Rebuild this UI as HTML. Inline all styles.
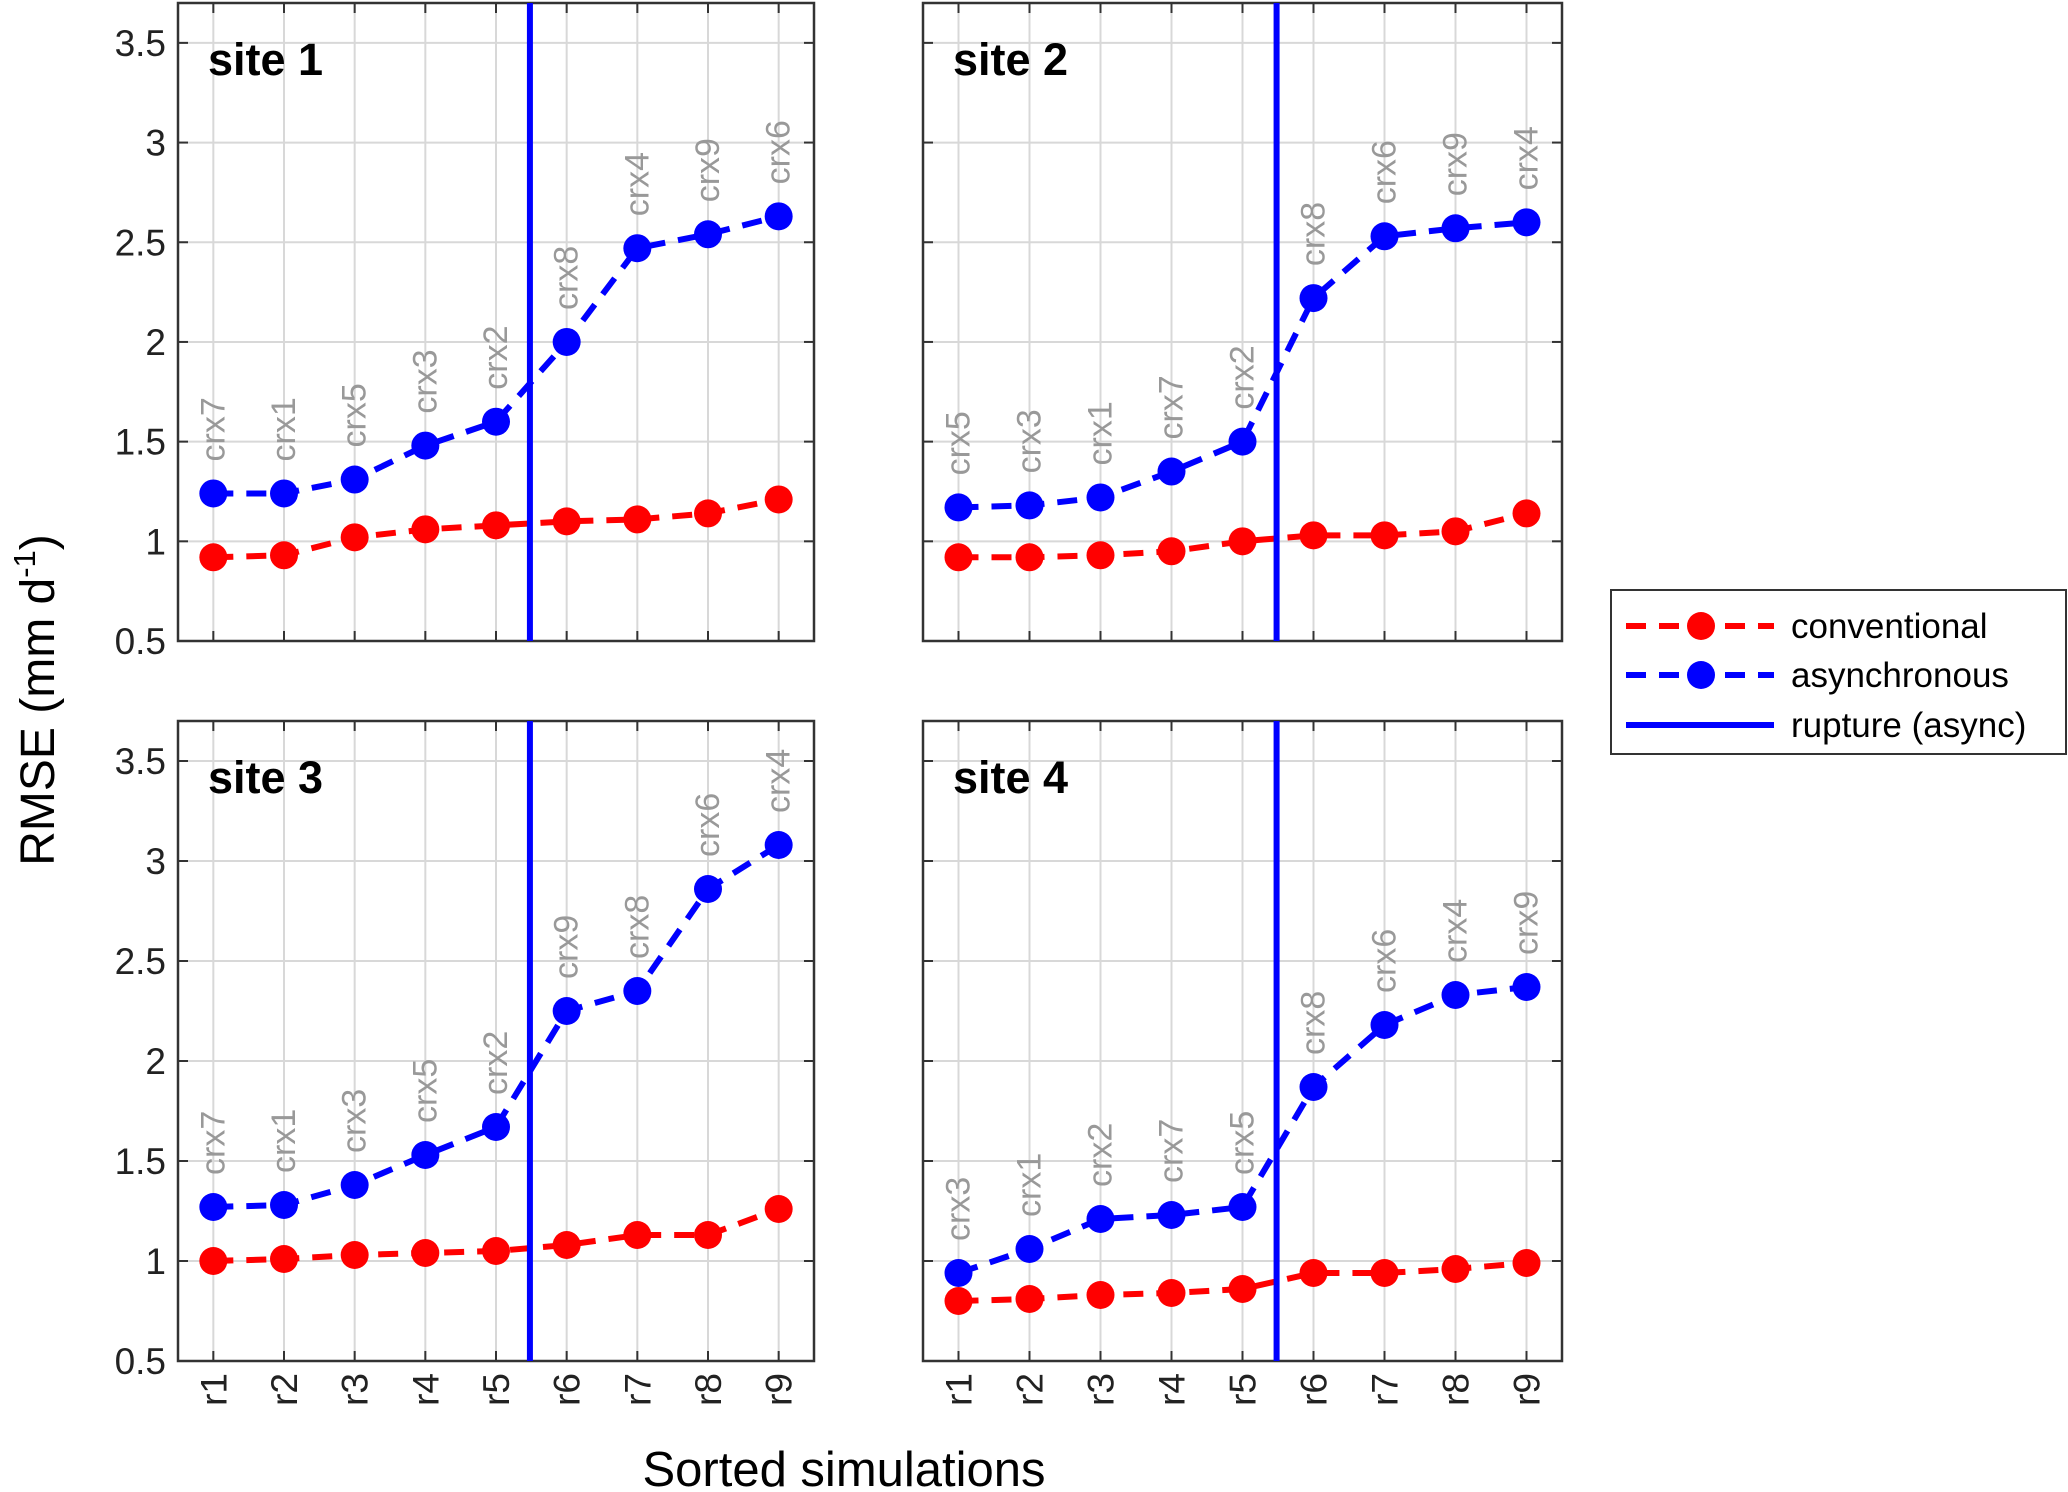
<!DOCTYPE html>
<html><head><meta charset="utf-8"><style>
body{margin:0;background:#fff;}
svg{display:block;font-family:"Liberation Sans",Arial,sans-serif;}
</style></head><body>
<svg id="chart" width="2068" height="1492" viewBox="0 0 2068 1492" xmlns="http://www.w3.org/2000/svg">
<text x="0" y="0" transform="translate(54,700) rotate(-90)" text-anchor="middle" font-size="48">RMSE (mm d<tspan font-size="31" dy="-19">-1</tspan><tspan dy="19">)</tspan></text>
<text x="844" y="1486" text-anchor="middle" font-size="49">Sorted simulations</text>
<g id="legend">
<rect x="1611" y="590" width="455" height="164" fill="#fff" stroke="#333" stroke-width="2"/>
<line x1="1626" y1="626" x2="1774" y2="626" stroke="#f00" stroke-width="6" stroke-dasharray="20 13"/>
<circle cx="1701" cy="626" r="14" fill="#f00"/>
<text x="1791" y="638" font-size="35">conventional</text>
<line x1="1626" y1="675" x2="1774" y2="675" stroke="#00f" stroke-width="6" stroke-dasharray="20 13"/>
<circle cx="1701" cy="675" r="14" fill="#00f"/>
<text x="1791" y="687" font-size="35">asynchronous</text>
<line x1="1626" y1="725" x2="1774" y2="725" stroke="#00f" stroke-width="6"/>
<text x="1791" y="737" font-size="35">rupture (async)</text>
</g>
</svg>
<script>
const categories = ["r1","r2","r3","r4","r5","r6","r7","r8","r9"];
const yTicks = [0.5,1,1.5,2,2.5,3,3.5];
const yTickLabels = ["0.5","1","1.5","2","2.5","3","3.5"];
const siteNames = ["site 1","site 2","site 3","site 4"];
const asyncSite1 = [1.24,1.24,1.31,1.48,1.60,2.00,2.47,2.54,2.63];
const convSite1 = [0.92,0.93,1.02,1.06,1.08,1.10,1.11,1.14,1.21];
const labelsSite1 = ["crx7","crx1","crx5","crx3","crx2","crx8","crx4","crx9","crx6"];
const asyncSite2 = [1.17,1.18,1.22,1.35,1.50,2.22,2.53,2.57,2.60];
const convSite2 = [0.92,0.92,0.93,0.95,1.00,1.03,1.03,1.05,1.14];
const labelsSite2 = ["crx5","crx3","crx1","crx7","crx2","crx8","crx6","crx9","crx4"];
const asyncSite3 = [1.27,1.28,1.38,1.53,1.67,2.25,2.35,2.86,3.08];
const convSite3 = [1.00,1.01,1.03,1.04,1.05,1.08,1.13,1.13,1.26];
const labelsSite3 = ["crx7","crx1","crx3","crx5","crx2","crx9","crx8","crx6","crx4"];
const asyncSite4 = [0.94,1.06,1.21,1.23,1.27,1.87,2.18,2.33,2.37];
const convSite4 = [0.80,0.81,0.83,0.84,0.86,0.94,0.94,0.96,0.99];
const labelsSite4 = ["crx3","crx1","crx2","crx7","crx5","crx8","crx6","crx4","crx9"];
const rupturePos = [5.48,5.48,5.48,5.48];

const NS="http://www.w3.org/2000/svg";
const svg=document.getElementById('chart');
function mk(tag,attrs,parent){const e=document.createElementNS(NS,tag);for(const k in attrs)e.setAttribute(k,attrs[k]);(parent||svg).appendChild(e);return e;}
const panels=[
 {l:178,r:814,t:3,b:641,a:asyncSite1,c:convSite1,lab:labelsSite1,yl:true,xl:false},
 {l:923,r:1562,t:3,b:641,a:asyncSite2,c:convSite2,lab:labelsSite2,yl:false,xl:false},
 {l:178,r:814,t:721,b:1361,a:asyncSite3,c:convSite3,lab:labelsSite3,yl:true,xl:true},
 {l:923,r:1562,t:721,b:1361,a:asyncSite4,c:convSite4,lab:labelsSite4,yl:false,xl:true}];
panels.forEach((p,pi)=>{
 const g=mk('g',{});
 
 
 const X=v=>p.l+(v-0.5)/9*(p.r-p.l);
 const Y=v=>p.b-(v-0.5)/3.2*(p.b-p.t);
 yTicks.forEach((t,i)=>{
  mk('line',{x1:p.l,x2:p.r,y1:Y(t),y2:Y(t),stroke:'#d8d8d8','stroke-width':2},g);
  mk('line',{x1:p.l,x2:p.l+10,y1:Y(t),y2:Y(t),stroke:'#333','stroke-width':2},g);
  mk('line',{x1:p.r,x2:p.r-10,y1:Y(t),y2:Y(t),stroke:'#333','stroke-width':2},g);
  if(p.yl){const tx=mk('text',{x:p.l-12,y:Y(t)+13,'text-anchor':'end','font-size':37,fill:'#222'},g);tx.textContent=yTickLabels[i];
   
   }
 });
 categories.forEach((c,i)=>{
  const x=X(i+1);
  mk('line',{x1:x,x2:x,y1:p.t,y2:p.b,stroke:'#d8d8d8','stroke-width':2},g);
  mk('line',{x1:x,x2:x,y1:p.b,y2:p.b-10,stroke:'#333','stroke-width':2},g);
  mk('line',{x1:x,x2:x,y1:p.t,y2:p.t+10,stroke:'#333','stroke-width':2},g);
  if(p.xl){const tx=mk('text',{x:0,y:0,transform:`translate(${x+13},${p.b+12}) rotate(-90)`,'text-anchor':'end','font-size':37,fill:'#222'},g);tx.textContent=c;
   
   }
 });
 mk('rect',{x:p.l,y:p.t,width:p.r-p.l,height:p.b-p.t,fill:'none',stroke:'#333','stroke-width':2.5},g);
 const st=mk('text',{x:p.l+30,y:p.t+72,'font-size':45,'font-weight':'bold'},g);st.textContent=siteNames[pi];
 
 
 [[p.c,'#f00','conventional'],[p.a,'#00f','asynchronous']].forEach(([d,col,nm])=>{
  const pl=mk('polyline',{points:d.map((v,i)=>X(i+1)+','+Y(v)).join(' '),fill:'none',stroke:col,'stroke-width':6,'stroke-dasharray':'20 13'},g);
  
  
  d.forEach((v,i)=>{const c=mk('circle',{cx:X(i+1),cy:Y(v),r:14,fill:col},g);
   
   });
 });
 p.a.forEach((v,i)=>{
  const tx=mk('text',{x:0,y:0,transform:`translate(${X(i+1)+11},${Y(v)-32}) rotate(-90)`,'font-size':34,fill:'#999'},g);
  tx.textContent=p.lab[i];
  
  
 });
 const rl=mk('line',{x1:X(rupturePos[pi]),x2:X(rupturePos[pi]),y1:p.t,y2:p.b,stroke:'#00f','stroke-width':6},g);
 
 
});
</script>
</body></html>
